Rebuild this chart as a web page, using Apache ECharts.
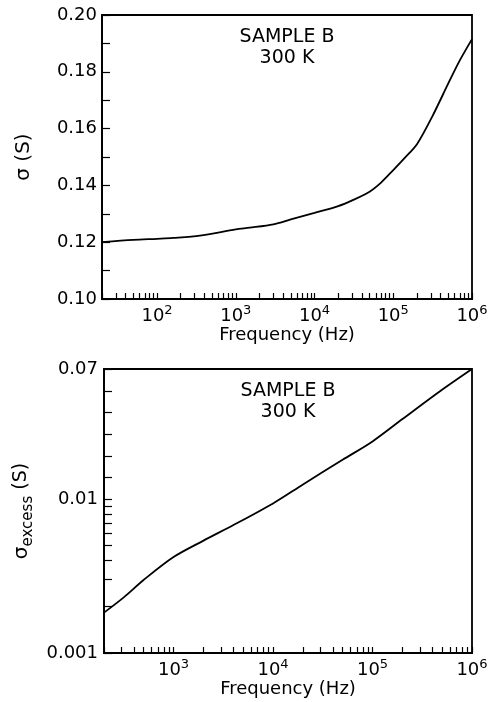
<!DOCTYPE html>
<html><head><meta charset="utf-8">
<script src="https://cdn.jsdelivr.net/npm/echarts@6/dist/echarts.min.js"></script>
<style>html,body{margin:0;padding:0;background:#fff}#c{width:493px;height:702px}</style>
</head><body><div id="c"></div>
<script>
// ---- data ----
const freqTop = [20, 50, 100, 160, 350, 1000, 1500, 3000, 5000, 10000, 20000, 31600, 50000, 70000, 100000, 140000, 200000, 316000, 500000, 700000, 1000000];
const sigmaTop = [0.1200, 0.1208, 0.1212, 0.1215, 0.1223, 0.1245, 0.1251, 0.1263, 0.1280, 0.1303, 0.1327, 0.1350, 0.1378, 0.1410, 0.1454, 0.1497, 0.1545, 0.1645, 0.1759, 0.1840, 0.1915];

const freqBottom = [200, 316, 500, 1000, 2000, 4000, 10000, 20000, 50000, 100000, 200000, 500000, 1000000];
const sigmaExcess = [0.00183, 0.0023, 0.00298, 0.0042, 0.00537, 0.00678, 0.00937, 0.01245, 0.0180, 0.0237, 0.0331, 0.0513, 0.0700];

// tick values
const minorTicksTopX = [30,40,50,60,70,80,90, 200,300,400,500,600,700,800,900, 2000,3000,4000,5000,6000,7000,8000,9000, 20000,30000,40000,50000,60000,70000,80000,90000, 200000,300000,400000,500000,600000,700000,800000,900000];
const minorTicksBottomX = [300,400,500,600,700,800,900, 2000,3000,4000,5000,6000,7000,8000,9000, 20000,30000,40000,50000,60000,70000,80000,90000, 200000,300000,400000,500000,600000,700000,800000,900000];
const minorTicksBottomY = [0.002,0.003,0.004,0.005,0.006,0.007,0.008,0.009, 0.0138,0.0191,0.0264,0.0365,0.0505];
const annotationLines = ['SAMPLE B', '300 K'];

const FONT = 'DejaVu Sans';
const BLACK = '#000';

const chart = echarts.init(document.getElementById('c'), null, {renderer: 'canvas'});

const supLabel = {
  formatter: function (v) {
    const l = Math.log10(v), e = Math.round(l);
    return Math.abs(l - e) < 1e-6 ? '{b|10}{s|' + e + '}' : '';
  },
  margin: 5,
  rich: {
    b: {fontSize: 18, fontFamily: FONT, color: BLACK, lineHeight: 21, verticalAlign: 'bottom'},
    s: {fontSize: 13, fontFamily: FONT, color: BLACK, lineHeight: 13, verticalAlign: 'top'}
  }
};

function logX(grid, min) {
  return {
    type: 'log', logBase: 10, gridIndex: grid, min: min, max: 1e6, position: 'bottom',
    axisLine: {show: true, lineStyle: {color: BLACK, width: 1.8}},
    axisTick: {show: true, inside: true, length: 6, lineStyle: {color: BLACK, width: 1.2}},
    axisLabel: supLabel,
    splitLine: {show: false},
    name: 'Frequency (Hz)', nameLocation: 'middle', nameGap: 26,
    nameTextStyle: {fontSize: 18, fontFamily: FONT, color: BLACK}
  };
}
function overlayX(grid, min, ticks) {
  return {
    type: 'value', gridIndex: grid, min: Math.log10(min), max: 6, position: 'bottom',
    axisLine: {show: false}, axisLabel: {show: false}, splitLine: {show: false},
    axisTick: {show: true, inside: true, length: 6, lineStyle: {color: BLACK, width: 1.2},
      customValues: ticks.map(Math.log10)}
  };
}

const option = {
  backgroundColor: '#fff',
  animation: false,
  grid: [
    {left: 102, top: 15, width: 370, height: 284, show: true, borderColor: BLACK, borderWidth: 1.8, containLabel: false},
    {left: 104, top: 369, width: 368, height: 284, show: true, borderColor: BLACK, borderWidth: 1.8, containLabel: false}
  ],
  xAxis: [
    logX(0, 20),
    logX(1, 200),
    overlayX(0, 20, minorTicksTopX),
    overlayX(1, 200, minorTicksBottomX)
  ],
  yAxis: [
    {
      type: 'value', gridIndex: 0, min: 0.10, max: 0.20, interval: 0.02, position: 'left',
      axisLine: {show: true, lineStyle: {color: BLACK, width: 1.8}},
      axisTick: {show: true, inside: true, length: 8, lineStyle: {color: BLACK, width: 1.2}},
      minorTick: {show: true, splitNumber: 2, length: 8, lineStyle: {color: BLACK, width: 1.2}},
      axisLabel: {fontSize: 18, fontFamily: FONT, color: BLACK, margin: 5, formatter: v => v.toFixed(2)},
      splitLine: {show: false}, minorSplitLine: {show: false},
      name: 'σ (S)', nameLocation: 'middle', nameGap: 68,
      nameTextStyle: {fontSize: 20, fontFamily: FONT, color: BLACK}
    },
    {
      type: 'log', logBase: 10, gridIndex: 1, min: 0.001, max: 0.07, position: 'left',
      axisLine: {show: true, lineStyle: {color: BLACK, width: 1.8}},
      axisTick: {show: true, inside: true, length: 8, lineStyle: {color: BLACK, width: 1.2}},
      axisLabel: {fontSize: 18, fontFamily: FONT, color: BLACK, margin: 6},
      splitLine: {show: false},
      name: '{g|σ}{e|excess}{p| (S)}', nameLocation: 'middle', nameGap: 66,
      nameTextStyle: {
        color: BLACK, fontFamily: FONT,
        rich: {
          g: {fontSize: 20, fontFamily: FONT, color: BLACK, lineHeight: 24, verticalAlign: 'top'},
          e: {fontSize: 15, fontFamily: FONT, color: BLACK, lineHeight: 15, verticalAlign: 'bottom'},
          p: {fontSize: 19, fontFamily: FONT, color: BLACK, lineHeight: 24, verticalAlign: 'top'}
        }
      }
    },
    {
      type: 'value', gridIndex: 1, min: Math.log10(0.001), max: Math.log10(0.07), position: 'left',
      axisLine: {show: false}, axisLabel: {show: false}, splitLine: {show: false},
      axisTick: {show: true, inside: true, length: 8, lineStyle: {color: BLACK, width: 1.2},
        customValues: minorTicksBottomY.map(Math.log10)}
    }
  ],
  graphic: [
    {type: 'text', x: 287, y: 37, style: {text: annotationLines[0], fontSize: 19, fontFamily: FONT, fill: BLACK, align: 'center', verticalAlign: 'middle'}},
    {type: 'text', x: 287, y: 58, style: {text: annotationLines[1], fontSize: 19, fontFamily: FONT, fill: BLACK, align: 'center', verticalAlign: 'middle'}},
    {type: 'text', x: 288, y: 391, style: {text: annotationLines[0], fontSize: 19, fontFamily: FONT, fill: BLACK, align: 'center', verticalAlign: 'middle'}},
    {type: 'text', x: 288, y: 412, style: {text: annotationLines[1], fontSize: 19, fontFamily: FONT, fill: BLACK, align: 'center', verticalAlign: 'middle'}}
  ],
  series: [
    {
      type: 'line', xAxisIndex: 0, yAxisIndex: 0, showSymbol: false, smooth: 0.3,
      lineStyle: {color: BLACK, width: 1.8},
      data: freqTop.map((f, i) => [f, sigmaTop[i]])
    },
    {
      type: 'line', xAxisIndex: 1, yAxisIndex: 1, showSymbol: false, smooth: 0.3,
      lineStyle: {color: BLACK, width: 1.8},
      data: freqBottom.map((f, i) => [f, sigmaExcess[i]])
    }
  ]
};
chart.setOption(option);
</script>
</body></html>
